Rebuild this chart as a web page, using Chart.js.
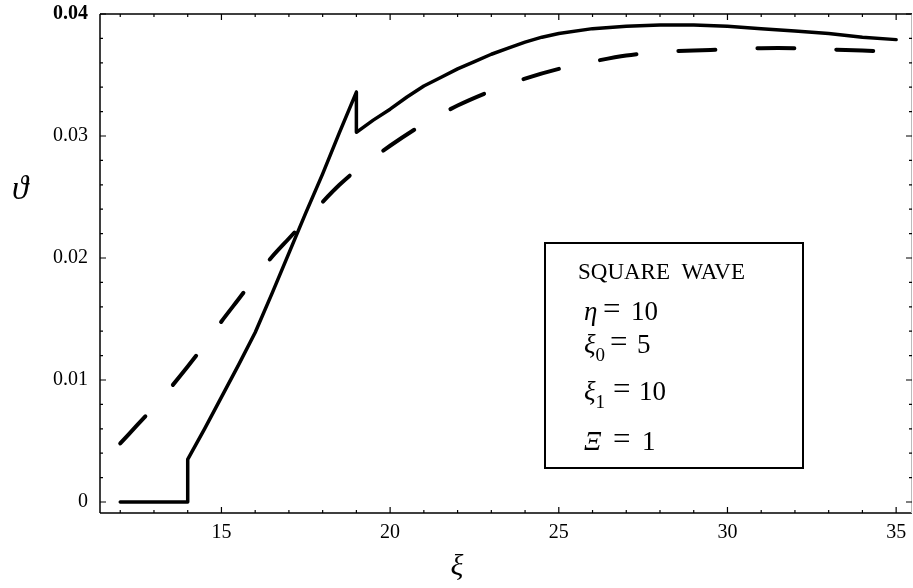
<!DOCTYPE html>
<html>
<head>
<meta charset="utf-8">
<script src="https://cdn.jsdelivr.net/npm/chart.js@4.4.1/dist/chart.umd.min.js"></script>
<style>
  html, body { margin: 0; padding: 0; background: #fff; }
  #wrap { width: 913px; height: 588px; }
</style>
</head>
<body>
<div id="wrap"><canvas id="chart"></canvas></div>
<script>
// temperature response, square wave input
const solidX = [12, 14, 14, 14.5, 15, 15.5, 16, 16.5, 17, 17.5, 18, 18.5, 19, 19, 19.5, 20, 20.5, 21, 21.5, 22, 22.5, 23, 23.5, 24, 24.5, 25, 26, 27, 28, 29, 30, 31, 32, 33, 34, 35];
const solidY = [0, 0, 0.0035, 0.0060, 0.0086, 0.0112, 0.0139, 0.0171, 0.0204, 0.0237, 0.0269, 0.0303, 0.0336, 0.0303, 0.0313, 0.0322, 0.0332, 0.0341, 0.0348, 0.0355, 0.0361, 0.0367, 0.0372, 0.0377, 0.0381, 0.0384, 0.0388, 0.0390, 0.0391, 0.0391, 0.0390, 0.0388, 0.0386, 0.0384, 0.0381, 0.0379];

const dashedX = [12, 12.5, 13, 13.5, 14, 14.5, 15, 15.5, 16, 16.5, 17, 17.5, 18, 18.5, 19, 20, 21, 22, 23, 24, 25, 26, 27, 28, 29, 30, 31, 32, 33, 34, 35];
const dashedY = [0.0048, 0.0063, 0.0078, 0.0094, 0.0111, 0.0129, 0.0148, 0.0166, 0.0184, 0.0201, 0.0216, 0.0231, 0.0246, 0.0260, 0.0272, 0.0292, 0.0310, 0.0325, 0.0337, 0.0347, 0.0355, 0.0361, 0.0366, 0.0369, 0.0370, 0.0371, 0.0372, 0.0372, 0.0371, 0.0370, 0.0369];

const xTicks = [15, 20, 25, 30, 35];
const yTicks = [0, 0.01, 0.02, 0.03, 0.04];
const xMinor = [12, 13, 14, 15, 16, 17, 18, 19, 20, 21, 22, 23, 24, 25, 26, 27, 28, 29, 30, 31, 32, 33, 34, 35];
const yMinor = [0, 0.002, 0.004, 0.006, 0.008, 0.01, 0.012, 0.014, 0.016, 0.018, 0.02, 0.022, 0.024, 0.026, 0.028, 0.03, 0.032, 0.034, 0.036, 0.038, 0.04];

// parameter box rows: [symbol, subscript, value]
const boxTitle = "SQUARE  WAVE";
const boxRows = [
    ["η", "", "10"],
    ["ξ", "0", "5"],
    ["ξ", "1", "10"],
    ["Ξ", "", "1"]
];

const SERIF = '"Liberation Serif", "DejaVu Serif", serif';

function pts(xs, ys) {
    return xs.map((x, i) => ({ x: x, y: ys[i] }));
}

// frame with inward ticks on all four sides, axis symbols and the parameter box
const framePlugin = {
    id: 'frame',
    afterDraw(chart) {
        const ctx = chart.ctx;
        const a = chart.chartArea;
        const xs = chart.scales.x, ys = chart.scales.y;
        ctx.save();
        ctx.strokeStyle = '#000';

        ctx.lineWidth = 1.5;
        ctx.beginPath();
        ctx.moveTo(a.left, a.top);
        ctx.lineTo(a.right, a.top);
        ctx.moveTo(a.left, a.top);
        ctx.lineTo(a.left, a.bottom);
        ctx.moveTo(a.left, a.bottom);
        ctx.lineTo(a.right, a.bottom);
        ctx.stroke();
        ctx.strokeStyle = '#bbb';
        ctx.lineWidth = 1;
        ctx.beginPath();
        ctx.moveTo(a.right - 0.5, a.top);
        ctx.lineTo(a.right - 0.5, a.bottom);
        ctx.stroke();

        ctx.strokeStyle = '#000';
        ctx.lineWidth = 1.2;
        ctx.beginPath();
        xMinor.forEach(v => {
            const p = xs.getPixelForValue(v);
            const len = xTicks.includes(v) ? 6 : 3;
            ctx.moveTo(p, a.bottom);
            ctx.lineTo(p, a.bottom - len);
            ctx.moveTo(p, a.top);
            ctx.lineTo(p, a.top + len);
        });
        yMinor.forEach(v => {
            const p = ys.getPixelForValue(v);
            const len = yTicks.includes(v) ? 6 : 3;
            ctx.moveTo(a.left, p);
            ctx.lineTo(a.left + len, p);
            ctx.moveTo(a.right, p);
            ctx.lineTo(a.right - len, p);
        });
        ctx.stroke();

        // axis symbols
        ctx.fillStyle = '#000';
        ctx.textAlign = 'center';
        ctx.textBaseline = 'middle';
        ctx.font = 'italic 33px ' + SERIF;
        ctx.fillText('ϑ', 20, 190);
        ctx.font = 'italic 30px ' + SERIF;
        ctx.fillText('ξ', 457, 567);

        // parameter box
        ctx.lineWidth = 2;
        ctx.strokeRect(545, 243, 258, 225);
        ctx.textAlign = 'left';
        ctx.textBaseline = 'alphabetic';
        ctx.font = '23px ' + SERIF;
        ctx.fillText(boxTitle, 578, 279);

        const baselines = [320, 353, 400, 450];
        const eqX = [603, 610, 613, 613];
        const valX = [631, 637, 639, 642];
        boxRows.forEach((row, i) => {
            const y = baselines[i];
            ctx.font = 'italic 27px ' + SERIF;
            ctx.fillText(row[0], 584, y);
            if (row[1]) {
                const sx = 584 + ctx.measureText(row[0]).width;
                ctx.font = '19px ' + SERIF;
                ctx.fillText(row[1], sx, y + 8);
            }
            ctx.font = '31px ' + SERIF;
            ctx.fillText('=', eqX[i], y - 1);
            ctx.font = '27px ' + SERIF;
            ctx.fillText(row[2], valX[i], y);
        });

        ctx.restore();
    }
};

// keep the plot frame where the layout padding puts it
function noLabelPadding(s) {
    s.paddingTop = 0;
    s.paddingBottom = 0;
    s.paddingLeft = 0;
    s.paddingRight = 0;
}

const ctx = document.getElementById("chart").getContext("2d");
const chart = new Chart(ctx, {
    type: 'line',
    data: {
        datasets: [{
            label: 'square wave',
            data: pts(solidX, solidY),
            borderColor: '#000',
            borderWidth: 3.5,
            pointRadius: 0,
            tension: 0,
            borderJoinStyle: 'round',
            borderCapStyle: 'round'
        }, {
            label: 'reference',
            data: pts(dashedX, dashedY),
            borderColor: '#000',
            borderWidth: 4,
            borderDash: [37, 42],
            borderCapStyle: 'round',
            pointRadius: 0,
            tension: 0.3
        }]
    },
    options: {
        responsive: true,
        maintainAspectRatio: false,
        animation: false,
        layout: { padding: { top: 14, right: 1, left: 0, bottom: 0 } },
        plugins: {
            legend: { display: false },
            tooltip: { enabled: false }
        },
        scales: {
            x: {
                type: 'linear',
                min: 11.4,
                max: 35.47,
                grid: { display: false, drawTicks: false },
                border: { display: false },
                afterBuildTicks: s => { s.ticks = xTicks.map(v => ({ value: v })); },
                afterFit: s => { s.height = 75; noLabelPadding(s); },
                ticks: {
                    padding: 8,
                    color: '#000',
                    maxRotation: 0,
                    font: { family: SERIF, size: 20 },
                    callback: v => String(v)
                }
            },
            y: {
                type: 'linear',
                min: -0.0009,
                max: 0.04,
                grid: { display: false, drawTicks: false },
                border: { display: false },
                afterBuildTicks: s => { s.ticks = yTicks.map(v => ({ value: v })); },
                afterFit: s => { s.width = 100; noLabelPadding(s); },
                ticks: {
                    padding: 12,
                    color: '#000',
                    font: c => ({ family: SERIF, size: 20, weight: c.tick && c.tick.value === 0.04 ? 'bold' : 'normal' }),
                    callback: v => v === 0 ? '0' : v.toFixed(2)
                }
            }
        }
    },
    plugins: [framePlugin]
});
</script>
</body>
</html>
